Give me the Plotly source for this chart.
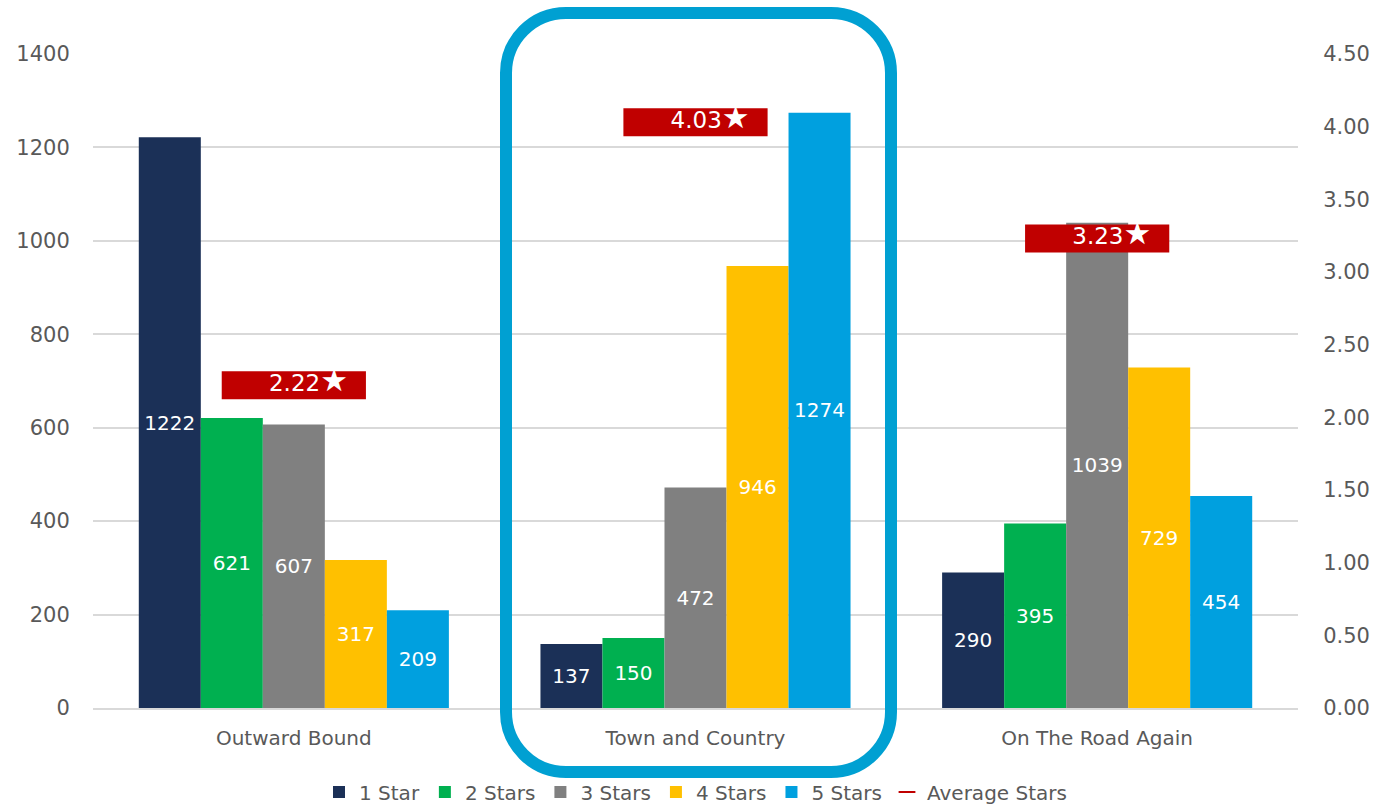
import plotly.graph_objects as go

# Review counts per product, split by star rating
products = ["Outward Bound", "Town and Country", "On The Road Again"]
one_star = [1222, 137, 290]
two_stars = [621, 150, 395]
three_stars = [607, 472, 1039]
four_stars = [317, 946, 729]
five_stars = [209, 1274, 454]
average_stars = [2.22, 4.03, 3.23]

series_names = ["1 Star", "2 Stars", "3 Stars", "4 Stars", "5 Stars"]
series_values = [one_star, two_stars, three_stars, four_stars, five_stars]
series_colors = ["#1B3057", "#00B050", "#808080", "#FFC000", "#00A0DF"]

FONT = "DejaVu Sans"
TEXT_GRAY = "#595959"

W, H = 1373, 805
ML, MR, MT, MB = 93, 75, 54, 97
PW, PH = W - ML - MR, H - MT - MB

fig = go.Figure()

for name, vals, col in zip(series_names, series_values, series_colors):
    fig.add_trace(go.Bar(
        name=name, x=products, y=vals,
        marker=dict(color=col, line=dict(width=0)),
        text=[str(v) for v in vals],
        textposition="inside", insidetextanchor="middle",
        textfont=dict(color="white", size=20, family=FONT),
        yaxis="y",
    ))

fig.add_trace(go.Scatter(
    name="Average Stars", x=products, y=average_stars,
    mode="markers+text",
    marker=dict(symbol="line-ew", size=103, color="#C00000",
                line=dict(color="#C00000", width=28)),
    text=["\u00a0\u00a0\u00a0\u00a0" + f"{v:.2f}"
          + "<span style='font-size:31px'>\u2605</span>" for v in average_stars],
    textposition="middle center",
    textfont=dict(color="white", size=23, family=FONT),
    yaxis="y2",
    cliponaxis=False,
))


def to_paper(px, py):
    return (px - ML) / PW, (H - MB - py) / PH


def rounded_rect_path(x0, y0, x1, y1, r):
    k = 0.5523 * r

    def P(x, y):
        a, b = to_paper(x, y)
        return f"{a:.5f},{b:.5f}"

    pts = [
        "M" + P(x0 + r, y0),
        "L" + P(x1 - r, y0),
        "C" + P(x1 - r + k, y0) + " " + P(x1, y0 + r - k) + " " + P(x1, y0 + r),
        "L" + P(x1, y1 - r),
        "C" + P(x1, y1 - r + k) + " " + P(x1 - r + k, y1) + " " + P(x1 - r, y1),
        "L" + P(x0 + r, y1),
        "C" + P(x0 + r - k, y1) + " " + P(x0, y1 - r + k) + " " + P(x0, y1 - r),
        "L" + P(x0, y0 + r),
        "C" + P(x0, y0 + r - k) + " " + P(x0 + r - k, y0) + " " + P(x0 + r, y0),
        "Z",
    ]
    return " ".join(pts)


# Highlight frame around the middle product
fig.add_shape(type="path", xref="paper", yref="paper",
              path=rounded_rect_path(506, 13, 891, 772, 60),
              line=dict(color="#00A0D2", width=12), layer="above")

fig.update_layout(
    width=W, height=H,
    margin=dict(l=ML, r=MR, t=MT, b=MB, autoexpand=False),
    paper_bgcolor="white", plot_bgcolor="white",
    barmode="group", bargap=0.228, bargroupgap=0,
    font=dict(family=FONT, color=TEXT_GRAY, size=20),
    uniformtext=dict(minsize=20, mode="show"),
    showlegend=True,
    legend=dict(orientation="h", x=0.5, xanchor="center",
                y=(H - MB - 792) / PH, yanchor="middle",
                font=dict(size=20, color=TEXT_GRAY, family=FONT),
                itemsizing="constant", traceorder="normal",
                bgcolor="rgba(0,0,0,0)"),
    xaxis=dict(showline=True, linecolor="#D9D9D9", linewidth=2,
               ticks="outside", ticklen=11, tickcolor="rgba(0,0,0,0)",
               tickfont=dict(size=20, color=TEXT_GRAY)),
    yaxis=dict(range=[0, 1400], dtick=200, showgrid=True,
               gridcolor="#D9D9D9", gridwidth=2, zeroline=False,
               ticks="outside", ticklen=18, tickcolor="rgba(0,0,0,0)",
               tickfont=dict(size=21, color=TEXT_GRAY)),
    yaxis2=dict(range=[0, 4.5], dtick=0.5, tickformat=".2f",
                overlaying="y", side="right", showgrid=False,
                zeroline=False,
                ticks="outside", ticklen=20, tickcolor="rgba(0,0,0,0)",
                tickfont=dict(size=21, color=TEXT_GRAY)),
)

fig.write_html("out.html")
